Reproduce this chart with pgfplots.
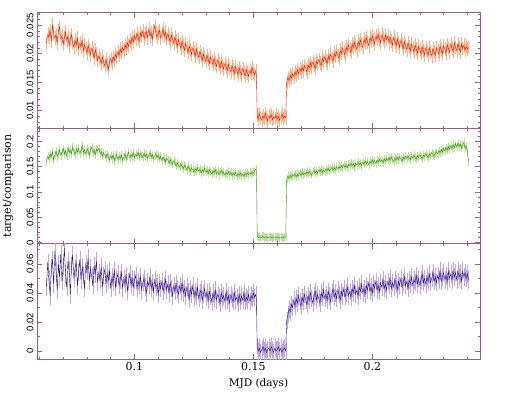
\documentclass[border=0pt]{standalone}
\usepackage{fontspec}
\setmainfont{DejaVu Serif}
\setsansfont{Liberation Sans}
\usepackage{pgfplots}
\usepackage{pgfplotstable}
\pgfplotsset{compat=1.18}
\definecolor{frm}{RGB}{150,95,135}
\definecolor{redD}{RGB}{225,25,0}
\definecolor{redL}{RGB}{255,175,135}
\definecolor{grnD}{RGB}{55,145,20}
\definecolor{grnL}{RGB}{185,225,150}
\definecolor{bluD}{RGB}{40,20,115}
\definecolor{bluL}{RGB}{190,165,230}

\pgfplotstableread{
x top mid bot
0.0630 0.0218 0.160 0.044
0.0635 0.0234 0.171 0.061
0.0640 0.0229 0.165 0.049
0.0645 0.0241 0.176 0.038
0.0650 0.0222 0.169 0.057
0.0655 0.0250 0.180 0.063
0.0660 0.0236 0.163 0.046
0.0665 0.0227 0.174 0.069
0.0670 0.0233 0.181 0.055
0.0675 0.0219 0.170 0.042
0.0680 0.0240 0.176 0.060
0.0685 0.0247 0.184 0.051
0.0690 0.0225 0.172 0.067
0.0695 0.0231 0.179 0.048
0.0700 0.0216 0.186 0.058
0.0705 0.0228 0.175 0.071
0.0710 0.0238 0.182 0.053
0.0715 0.0223 0.171 0.044
0.0720 0.0230 0.188 0.062
0.0725 0.0214 0.178 0.056
0.0730 0.0226 0.183 0.039
0.0735 0.0233 0.176 0.059
0.0740 0.0219 0.189 0.066
0.0745 0.0211 0.180 0.050
0.0750 0.0224 0.174 0.057
0.0755 0.0215 0.185 0.061
0.0760 0.0227 0.179 0.045
0.0765 0.0208 0.187 0.054
0.0770 0.0219 0.176 0.063
0.0775 0.0212 0.183 0.049
0.0780 0.0223 0.191 0.058
0.0785 0.0205 0.178 0.052
0.0790 0.0216 0.184 0.043
0.0795 0.0209 0.175 0.060
0.0800 0.0201 0.186 0.055
0.0805 0.0214 0.181 0.064
0.0810 0.0206 0.173 0.048
0.0815 0.0198 0.184 0.057
0.0820 0.0210 0.189 0.051
0.0825 0.0203 0.177 0.045
0.0830 0.0192 0.182 0.059
0.0835 0.0207 0.174 0.053
0.0840 0.0199 0.185 0.062
0.0845 0.0188 0.181 0.047
0.0850 0.0196 0.187 0.054
0.0855 0.0191 0.176 0.049
0.0860 0.0183 0.180 0.058
0.0865 0.0194 0.171 0.044
0.0870 0.0186 0.178 0.052
0.0875 0.0178 0.173 0.056
0.0880 0.0189 0.168 0.046
0.0885 0.0181 0.176 0.053
0.0890 0.0172 0.169 0.049
0.0895 0.0186 0.163 0.055
0.0900 0.0191 0.172 0.043
0.0905 0.0183 0.166 0.051
0.0910 0.0195 0.174 0.047
0.0915 0.0188 0.162 0.056
0.0920 0.0199 0.168 0.044
0.0925 0.0193 0.175 0.050
0.0930 0.0204 0.164 0.053
0.0935 0.0197 0.171 0.045
0.0940 0.0208 0.166 0.049
0.0945 0.0202 0.174 0.054
0.0950 0.0211 0.162 0.043
0.0955 0.0205 0.170 0.050
0.0960 0.0216 0.176 0.046
0.0965 0.0209 0.165 0.052
0.0970 0.0219 0.172 0.041
0.0975 0.0213 0.179 0.048
0.0980 0.0224 0.167 0.053
0.0985 0.0217 0.174 0.045
0.0990 0.0229 0.170 0.050
0.0995 0.0221 0.178 0.044
0.1000 0.0232 0.168 0.049
0.1005 0.0225 0.175 0.052
0.1010 0.0236 0.171 0.043
0.1015 0.0228 0.179 0.048
0.1020 0.0222 0.169 0.045
0.1025 0.0237 0.176 0.051
0.1030 0.0230 0.172 0.042
0.1035 0.0241 0.168 0.047
0.1040 0.0226 0.177 0.050
0.1045 0.0234 0.170 0.044
0.1050 0.0239 0.175 0.040
0.1055 0.0228 0.167 0.048
0.1060 0.0243 0.173 0.045
0.1065 0.0231 0.178 0.051
0.1070 0.0237 0.169 0.043
0.1075 0.0225 0.174 0.047
0.1080 0.0240 0.166 0.041
0.1085 0.0249 0.172 0.049
0.1090 0.0236 0.176 0.044
0.1095 0.0229 0.168 0.046
0.1100 0.0236 0.173 0.039
0.1105 0.0241 0.165 0.047
0.1110 0.0227 0.171 0.043
0.1115 0.0234 0.162 0.048
0.1120 0.0244 0.169 0.041
0.1125 0.0230 0.166 0.045
0.1130 0.0238 0.160 0.049
0.1135 0.0225 0.167 0.042
0.1140 0.0235 0.163 0.046
0.1145 0.0228 0.157 0.040
0.1150 0.0221 0.164 0.047
0.1155 0.0233 0.159 0.043
0.1160 0.0226 0.155 0.038
0.1165 0.0218 0.162 0.045
0.1170 0.0229 0.157 0.041
0.1175 0.0222 0.151 0.046
0.1180 0.0213 0.158 0.042
0.1185 0.0225 0.153 0.039
0.1190 0.0217 0.149 0.045
0.1195 0.0210 0.156 0.041
0.1200 0.0221 0.151 0.047
0.1205 0.0214 0.146 0.040
0.1210 0.0206 0.153 0.043
0.1215 0.0218 0.149 0.038
0.1220 0.0211 0.144 0.044
0.1225 0.0202 0.151 0.041
0.1230 0.0213 0.146 0.036
0.1235 0.0207 0.142 0.043
0.1240 0.0199 0.148 0.039
0.1245 0.0210 0.144 0.045
0.1250 0.0204 0.139 0.037
0.1255 0.0196 0.146 0.041
0.1260 0.0208 0.142 0.038
0.1265 0.0200 0.148 0.044
0.1270 0.0193 0.141 0.036
0.1275 0.0204 0.145 0.040
0.1280 0.0197 0.138 0.042
0.1285 0.0189 0.144 0.035
0.1290 0.0199 0.140 0.039
0.1295 0.0193 0.147 0.043
0.1300 0.0186 0.139 0.037
0.1305 0.0197 0.143 0.040
0.1310 0.0190 0.137 0.035
0.1315 0.0183 0.144 0.041
0.1320 0.0194 0.140 0.038
0.1325 0.0187 0.135 0.034
0.1330 0.0181 0.142 0.040
0.1335 0.0191 0.138 0.036
0.1340 0.0184 0.144 0.042
0.1345 0.0178 0.136 0.035
0.1350 0.0189 0.141 0.039
0.1355 0.0182 0.134 0.037
0.1360 0.0175 0.139 0.033
0.1365 0.0186 0.143 0.040
0.1370 0.0179 0.136 0.036
0.1375 0.0173 0.140 0.038
0.1380 0.0183 0.133 0.034
0.1385 0.0177 0.138 0.041
0.1390 0.0170 0.135 0.035
0.1395 0.0181 0.141 0.038
0.1400 0.0174 0.134 0.033
0.1405 0.0168 0.139 0.039
0.1410 0.0179 0.132 0.036
0.1415 0.0172 0.137 0.034
0.1420 0.0166 0.134 0.040
0.1425 0.0177 0.139 0.035
0.1430 0.0170 0.131 0.037
0.1435 0.0164 0.136 0.033
0.1440 0.0175 0.133 0.039
0.1445 0.0168 0.138 0.034
0.1450 0.0163 0.132 0.038
0.1455 0.0174 0.136 0.035
0.1460 0.0167 0.131 0.040
0.1465 0.0161 0.137 0.034
0.1470 0.0172 0.133 0.037
0.1475 0.0166 0.138 0.035
0.1480 0.0160 0.134 0.039
0.1485 0.0171 0.139 0.034
0.1490 0.0165 0.135 0.038
0.1495 0.0175 0.140 0.036
0.1500 0.0168 0.137 0.040
0.1505 0.0163 0.142 0.037
0.1510 0.0170 0.145 0.039
0.1513 0.0158 0.138 0.034
0.1516 0.0092 0.012 0.003
0.1520 0.0085 0.010 0.000
0.1525 0.0094 0.011 0.002
0.1530 0.0087 0.009 -0.001
0.1535 0.0083 0.010 0.001
0.1540 0.0091 0.012 0.003
0.1545 0.0086 0.009 0.000
0.1550 0.0095 0.010 0.002
0.1555 0.0088 0.011 -0.001
0.1560 0.0082 0.009 0.001
0.1565 0.0090 0.010 0.002
0.1570 0.0087 0.011 0.000
0.1575 0.0093 0.010 0.003
0.1580 0.0084 0.009 0.001
0.1585 0.0089 0.011 -0.001
0.1590 0.0086 0.010 0.002
0.1595 0.0092 0.009 0.000
0.1600 0.0085 0.011 0.001
0.1605 0.0090 0.010 0.003
0.1610 0.0083 0.009 0.000
0.1615 0.0088 0.011 0.002
0.1620 0.0094 0.010 -0.001
0.1625 0.0086 0.009 0.001
0.1630 0.0091 0.011 0.002
0.1636 0.0087 0.010 0.000
0.1640 0.0150 0.125 0.021
0.1645 0.0158 0.131 0.025
0.1650 0.0153 0.127 0.029
0.1655 0.0162 0.133 0.027
0.1660 0.0157 0.129 0.032
0.1665 0.0165 0.134 0.030
0.1670 0.0159 0.131 0.035
0.1675 0.0168 0.136 0.031
0.1680 0.0163 0.130 0.036
0.1685 0.0171 0.135 0.033
0.1690 0.0165 0.132 0.038
0.1695 0.0174 0.137 0.034
0.1700 0.0168 0.133 0.031
0.1705 0.0176 0.139 0.037
0.1710 0.0170 0.134 0.034
0.1715 0.0179 0.138 0.039
0.1720 0.0173 0.135 0.035
0.1725 0.0168 0.140 0.032
0.1730 0.0180 0.136 0.038
0.1735 0.0175 0.141 0.035
0.1740 0.0184 0.137 0.040
0.1745 0.0177 0.133 0.036
0.1750 0.0186 0.139 0.033
0.1755 0.0180 0.143 0.038
0.1760 0.0174 0.138 0.041
0.1765 0.0187 0.142 0.035
0.1770 0.0182 0.137 0.039
0.1775 0.0190 0.144 0.036
0.1780 0.0184 0.140 0.033
0.1785 0.0179 0.145 0.040
0.1790 0.0192 0.139 0.037
0.1795 0.0186 0.143 0.042
0.1800 0.0195 0.140 0.036
0.1805 0.0188 0.146 0.039
0.1810 0.0183 0.142 0.035
0.1815 0.0196 0.147 0.041
0.1820 0.0190 0.141 0.038
0.1825 0.0199 0.145 0.034
0.1830 0.0193 0.149 0.040
0.1835 0.0187 0.143 0.043
0.1840 0.0201 0.148 0.037
0.1845 0.0195 0.144 0.040
0.1850 0.0204 0.150 0.036
0.1855 0.0197 0.146 0.042
0.1860 0.0191 0.151 0.039
0.1865 0.0206 0.147 0.035
0.1870 0.0200 0.152 0.041
0.1875 0.0210 0.148 0.038
0.1880 0.0203 0.154 0.043
0.1885 0.0197 0.149 0.037
0.1890 0.0212 0.153 0.040
0.1895 0.0206 0.148 0.044
0.1900 0.0215 0.155 0.038
0.1905 0.0208 0.151 0.041
0.1910 0.0202 0.157 0.037
0.1915 0.0217 0.152 0.043
0.1920 0.0211 0.156 0.040
0.1925 0.0220 0.150 0.045
0.1930 0.0213 0.157 0.039
0.1935 0.0207 0.153 0.042
0.1940 0.0222 0.159 0.038
0.1945 0.0215 0.154 0.044
0.1950 0.0224 0.158 0.041
0.1955 0.0217 0.152 0.046
0.1960 0.0211 0.159 0.040
0.1965 0.0226 0.155 0.043
0.1970 0.0219 0.161 0.039
0.1975 0.0228 0.156 0.045
0.1980 0.0221 0.160 0.042
0.1985 0.0214 0.154 0.047
0.1990 0.0229 0.161 0.041
0.1995 0.0222 0.157 0.044
0.2000 0.0231 0.163 0.040
0.2005 0.0224 0.158 0.046
0.2010 0.0217 0.162 0.043
0.2015 0.0232 0.156 0.048
0.2020 0.0225 0.163 0.042
0.2025 0.0233 0.159 0.045
0.2030 0.0226 0.165 0.041
0.2035 0.0219 0.160 0.047
0.2040 0.0234 0.164 0.044
0.2045 0.0227 0.158 0.049
0.2050 0.0221 0.166 0.043
0.2055 0.0233 0.161 0.046
0.2060 0.0225 0.167 0.042
0.2065 0.0231 0.162 0.048
0.2070 0.0219 0.168 0.045
0.2075 0.0228 0.163 0.050
0.2080 0.0222 0.169 0.043
0.2085 0.0215 0.164 0.047
0.2090 0.0229 0.160 0.044
0.2095 0.0221 0.168 0.049
0.2100 0.0214 0.163 0.046
0.2105 0.0226 0.169 0.042
0.2110 0.0219 0.164 0.048
0.2115 0.0211 0.170 0.045
0.2120 0.0224 0.166 0.050
0.2125 0.0217 0.161 0.044
0.2130 0.0209 0.169 0.047
0.2135 0.0221 0.165 0.051
0.2140 0.0214 0.171 0.045
0.2145 0.0207 0.166 0.048
0.2150 0.0219 0.172 0.043
0.2155 0.0212 0.167 0.049
0.2160 0.0205 0.164 0.046
0.2165 0.0217 0.171 0.051
0.2170 0.0210 0.167 0.045
0.2175 0.0203 0.173 0.049
0.2180 0.0215 0.168 0.047
0.2185 0.0208 0.165 0.052
0.2190 0.0201 0.172 0.046
0.2195 0.0213 0.168 0.050
0.2200 0.0206 0.174 0.045
0.2205 0.0200 0.169 0.049
0.2210 0.0212 0.166 0.053
0.2215 0.0205 0.173 0.047
0.2220 0.0198 0.170 0.050
0.2225 0.0211 0.176 0.046
0.2230 0.0204 0.171 0.051
0.2235 0.0197 0.168 0.048
0.2240 0.0210 0.175 0.053
0.2245 0.0203 0.172 0.047
0.2250 0.0196 0.178 0.050
0.2255 0.0209 0.174 0.054
0.2260 0.0203 0.171 0.048
0.2265 0.0197 0.177 0.051
0.2270 0.0211 0.180 0.047
0.2275 0.0205 0.175 0.052
0.2280 0.0199 0.182 0.049
0.2285 0.0213 0.178 0.055
0.2290 0.0206 0.184 0.048
0.2295 0.0200 0.179 0.051
0.2300 0.0214 0.186 0.054
0.2305 0.0208 0.181 0.049
0.2310 0.0201 0.188 0.052
0.2315 0.0216 0.183 0.048
0.2320 0.0209 0.190 0.055
0.2325 0.0203 0.185 0.050
0.2330 0.0218 0.192 0.053
0.2335 0.0210 0.186 0.049
0.2340 0.0204 0.194 0.055
0.2345 0.0219 0.188 0.051
0.2350 0.0211 0.196 0.054
0.2355 0.0205 0.189 0.049
0.2360 0.0218 0.197 0.055
0.2365 0.0210 0.190 0.051
0.2370 0.0203 0.195 0.053
0.2375 0.0217 0.187 0.048
0.2380 0.0209 0.193 0.055
0.2385 0.0215 0.198 0.051
0.2390 0.0206 0.186 0.054
0.2395 0.0213 0.191 0.050
0.2400 0.0208 0.180 0.053
0.2405 0.0211 0.160 0.049
}\lc

\pgfplotsset{
  lcstyle/.style={
    scale only axis, width=443pt, height=115.5pt,
    anchor=south west,
    xmin=0.059, xmax=0.2453,
    axis line style={frm, line width=0.6pt},
    every tick/.style={frm, line width=0.6pt},
    tick align=inside,
    major tick length=5pt, minor tick length=2.5pt,
    xtick={0.1,0.15,0.2},
    minor xtick={0.06,0.07,0.08,0.09,0.11,0.12,0.13,0.14,0.16,0.17,0.18,0.19,0.21,0.22,0.23,0.24},
    scaled y ticks=false, scaled x ticks=false,
    /pgf/number format/assume math mode=true,
    /pgf/number format/fixed,
    /pgf/number format/precision=3,
    yticklabel style={font=\sffamily\fontsize{9.5}{10}\selectfont, rotate=90, anchor=south},
    xticklabel style={font=\fontsize{11}{12}\selectfont},
    clip=true,
  },
  ebar/.style 2 args={draw=none, mark=none, forget plot,
    error bars/.cd, y dir=both, y fixed=#1, error mark=none,
    error bar style={draw=#2, line width=0.35pt}},
}

\begin{document}
\begin{tikzpicture}
% top panel
\begin{axis}[lcstyle, at={(37pt,263.8pt)},
  ymin=0.0069, ymax=0.0272,
  ytick={0.01,0.015,0.02,0.025},
  minor ytick={0.007,0.008,0.009,0.011,0.012,0.013,0.014,0.016,0.017,0.018,0.019,0.021,0.022,0.023,0.024,0.026,0.027},
  xticklabels={}]
\addplot[ebar={0.0012}{redL}] table[x=x, y=top]{\lc};
\addplot[redD, line width=0.4pt, mark=none] table[x=x, y=top]{\lc};
\end{axis}
% middle panel
\begin{axis}[lcstyle, at={(37pt,148.3pt)},
  ymin=-0.0026, ymax=0.2264,
  ytick={0,0.05,0.1,0.15,0.2},
  minor ytick={0.01,0.02,0.03,0.04,0.06,0.07,0.08,0.09,0.11,0.12,0.13,0.14,0.16,0.17,0.18,0.19,0.21,0.22},
  xticklabels={},
  ylabel={target/comparison},
  ylabel style={at={(axis description cs:-0.0655,0.5)}, anchor=center, font=\fontsize{11}{12}\selectfont}]
\addplot[ebar={0.008}{grnL}] table[x=x, y=mid]{\lc};
\addplot[grnD, line width=0.4pt, mark=none] table[x=x, y=mid]{\lc};
\end{axis}
% bottom panel
\begin{axis}[lcstyle, at={(37pt,33pt)},
  ymin=-0.0055, ymax=0.074,
  ytick={0,0.02,0.04,0.06},
  minor ytick={0.01,0.03,0.05,0.07},
  xlabel={MJD (days)},
  xlabel style={at={(axis description cs:0.5,-0.21)}, anchor=center, font=\fontsize{10.5}{12}\selectfont}]
\addplot[ebar={0.006}{bluL}] table[x=x, y=bot]{\lc};
\addplot[bluD, line width=0.4pt, mark=none] table[x=x, y=bot]{\lc};
\end{axis}
\pgfresetboundingbox
\path (0,0) rectangle (505pt,392pt);
\end{tikzpicture}
\end{document}
